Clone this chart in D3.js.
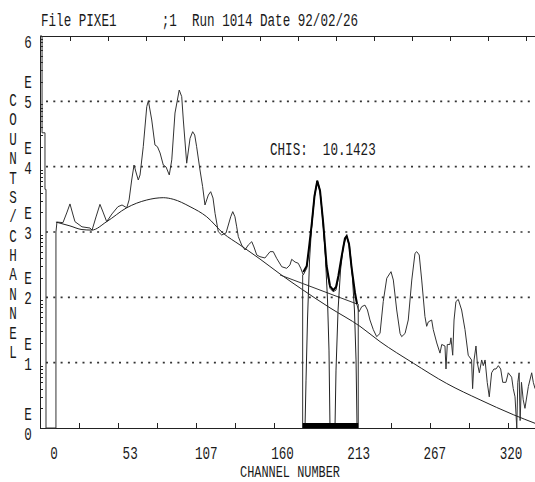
<!DOCTYPE html>
<html>
<head>
<meta charset="utf-8">
<script src="https://cdn.jsdelivr.net/npm/d3@7"></script>
<style>
body { margin: 0; background: #fff; }
text {
  font-family: "Liberation Mono", "DejaVu Sans Mono", monospace;
  fill: #1a1a1a;
  font-size: 18px;
  white-space: pre;
}
.frame line, .frame path { stroke: #222; stroke-width: 1; fill: none; shape-rendering: crispEdges; }
.grid line { stroke: #333; stroke-width: 1.6; stroke-dasharray: 2 5.3; }
</style>
</head>
<body>
<svg id="chart" width="535" height="482"></svg>
<script>
// ---- data ----
// measured spectrum (channel, counts); counts of 1 sit on the bottom axis
const specCh = [0, 1.4, 1.4, 3.4, 3.4, 4.1, 4.1, 10.9,
  10.9, 11.6, 15.7, 18.5, 20.5, 22.6, 23.9, 28.7, 34.2, 35.6, 38.3, 41.0, 43.1, 45.6, 49.2,
  53.3, 56.1, 59.3, 60.9, 62.7, 64.3, 65.6, 67.2, 68.4, 70.6, 73.0, 74.1, 76.4, 78.6, 80.3,
  82.1, 84.3, 86.2, 88.4, 90.1, 92.3, 95.2, 96.9, 98.0, 100.3, 102.6, 104.4, 105.8, 107.1,
  109.4, 111.2, 112.8, 115.1, 116.7, 118.3, 119.7, 121.9, 124.2, 127.2, 130.4, 131.8, 133.3,
  134.5, 135.6, 137.9, 140.2, 142.4, 144.8, 146.3, 148.2, 150.4, 153.8, 157.3, 159.5, 161.8,
  165.3, 168.7, 170.9, 172.1, 174.4, 176.6, 178.3, 180.0, 182.4, 183.9, 185.8, 187.7, 189.6,
  191.5, 193.7, 196.0, 198.3, 200.5, 202.4, 204.0, 206.3, 208.5, 209.7, 211.3, 213.1, 215.4,
  216.8, 218.1, 220.0, 222.2, 223.9, 225.6, 227.9, 230.2, 232.5, 234.7, 237.1, 240.0, 241.6,
  243.9, 246.2, 247.3, 249.6, 251.8, 254.2, 256.4, 257.6, 259.3, 261.0, 263.2, 264.4, 265.5,
  267.8, 268.9, 271.3, 273.5, 274.7, 276.9, 277.6, 278.5, 280.3, 281.0, 282.2, 283.1, 284.4,
  286.0, 288.3, 290.6, 292.8, 295.1, 295.8, 296.8, 298.1, 299.0, 300.4, 302.0, 303.1, 304.3,
  305.8, 307.2, 308.8, 310.4, 311.8, 313.4, 315.0, 316.4, 318.6, 320.2, 322.5, 323.6, 324.8,
  326.0, 326.7, 327.6, 328.3, 329.2, 330.4, 331.6, 333.9, 336.2, 337.3, 338.5];
const specCounts = [1e6, 1e6, 33000, 33000, 4500, 4500, 1, 1,
  1000, 1420, 1390, 2020, 2690, 1820, 1440, 1200, 1150, 1070, 1700, 2650, 2020, 1440, 1890,
  2440, 2590, 2350, 3090, 6250, 10600, 8280, 6250, 7460, 20200, 82800, 102000, 51800, 21500, 20200,
  16200, 10600, 9890, 7460, 12700, 66200, 149000, 118000, 51800, 11300, 27200, 34300, 30500, 20200,
  8890, 4940, 2590, 3680, 4140, 3310, 1930, 1010, 900, 966, 1710, 2050, 1710,
  1200, 848, 632, 531, 632, 711, 590, 445, 419, 400, 500, 500, 396,
  294, 278, 313, 382, 347, 332, 278, 220, 278, 531, 1200, 3430, 6100,
  4400, 1200, 262, 137, 122, 129, 196, 419, 801, 869, 632, 262, 109,
  76, 60, 72, 76, 64, 45, 32, 25, 28, 86, 196, 247, 184,
  64, 28, 25, 28, 45, 184, 472, 500, 445, 184, 51, 36, 42,
  45, 32, 20, 14, 19, 18, 8, 19, 19, 24, 13, 45, 86,
  93, 64, 32, 13, 11, 4, 11, 18, 10, 7, 11, 9, 11,
  5, 3, 7, 8, 8, 9, 8, 5, 5, 7, 6, 4, 3,
  1, 5, 7, 1.3, 5, 2.7, 2, 4.3, 7, 5, 4];

// smooth continuum under the whole spectrum
const bgCh = [10.9, 20.5, 28.7, 35.4, 45.6, 59.3, 73.0, 84.3, 91.1, 102.6, 114.0, 125.3, 136.8,
  150.4, 164.1, 177.8, 198.3, 218.8, 232.5, 255.3, 278.1, 300.9, 323.6, 338.5];
const bgCounts = [1420, 1240, 1090, 1070, 1440, 2350, 3090, 3350, 3170, 2440, 1710, 955, 632,
  386, 228, 139, 69, 36, 21, 9.8, 4.8, 2.7, 1.6, 1.18];

// local background of the fitted region
const localBgCh = [164.1, 216.8];
const localBgCounts = [220, 79];

// fitted peak components
const peak1Ch = [181.2, 181.9, 182.9, 184.3, 186.0, 187.7, 189.6, 191.5, 193.2, 194.9, 196.6, 197.6, 198.3];
const peak1Counts = [1, 5.4, 45, 373, 1530, 3690, 6040, 4100, 1820, 531, 91, 15.6, 1];
const peak2Ch = [201.7, 202.4, 203.8, 205.5, 207.5, 209.7, 211.6, 213.3, 215.0, 216.1, 216.8];
const peak2Counts = [1, 7.7, 64, 262, 632, 869, 632, 262, 64, 11, 1];

// total fit over the region
const fitCh = [180.0, 182.4, 183.9, 185.8, 187.7, 189.6, 191.5, 193.7, 196.0, 198.3, 200.5, 202.4,
  204.0, 206.3, 208.5, 209.7, 211.3, 213.1, 215.4, 216.8];
const fitCounts = [244, 302, 569, 1330, 3560, 6100, 4250, 1330, 302, 149, 129, 144,
  212, 430, 795, 869, 655, 281, 117, 79];

const regionCh = [179.6, 217.6];
const regionEdgeCounts = [220, 79];

const xLabels = ["0", "53", "107", "160", "213", "267", "320"];
const xTicks = [26.7, 53.3, 80, 106.7, 133.3, 160, 186.7, 213.3, 240, 266.7, 293.3, 320];
const topTicks = [20.5, 46.5, 72.5, 98.5, 124.5, 150.5, 176.5, 202.5, 228.5, 254.5, 280.5, 306.5, 332.5];
const decades = [0, 1, 2, 3, 4, 5, 6];
const yTitle = "COUNTS/CHANNEL";
const xTitle = "CHANNEL NUMBER";
const title = "File PIXE1      ;1  Run 1014 Date 92/02/26";
const chis = "CHIS:  10.1423";

// ---- layout ----
const pL = 40, pR = 545, pT = 36, pB = 428;
const SX = 0.7; // narrow, tall plotter lettering

const x = d3.scaleLinear().domain([0, 320]).range([pL, 508]);
const y = d3.scaleLog().domain([1, 1e6]).range([pB, pT]).clamp(true);
const xLab = d3.scalePoint().domain(xLabels).range([54, 511]);
const yLet = d3.scalePoint().domain(d3.range(yTitle.length)).range([100, 352]);

const svg = d3.select("#chart");

function label(g, tx, ty, str, anchor) {
  return g.append("text")
    .attr("transform", `translate(${tx},${ty}) scale(${SX},1)`)
    .attr("text-anchor", anchor || "start")
    .text(str);
}

// title
label(svg, 41, 26, title);

// dotted decade grid
svg.append("g").attr("class", "grid")
  .selectAll("line").data(decades.filter(d => d > 0 && d < 6))
  .enter().append("line")
  .attr("x1", pL + 6).attr("x2", pR)
  .attr("y1", d => y(Math.pow(10, d))).attr("y2", d => y(Math.pow(10, d)));

// frame
const frame = svg.append("g").attr("class", "frame");
frame.append("path").attr("d", `M${pR},${pT}H${pL}V${pB}H${pR}`);

// minor log ticks on left edge
const minors = [];
decades.slice(0, 6).forEach(k => { for (let m = 2; m <= 9; m++) minors.push(m * Math.pow(10, k)); });
frame.selectAll(".minor").data(minors).enter().append("line")
  .attr("x1", pL).attr("x2", pL + 3)
  .attr("y1", d => Math.round(y(d)) + 0.5).attr("y2", d => Math.round(y(d)) + 0.5);

// bottom ticks
frame.selectAll(".bt").data(xTicks).enter().append("line")
  .attr("x1", d => Math.round(x(d)) + 0.5).attr("x2", d => Math.round(x(d)) + 0.5)
  .attr("y1", pB).attr("y2", pB - 5);
// top ticks
frame.selectAll(".tt").data(topTicks).enter().append("line")
  .attr("x1", d => Math.round(x(d)) + 0.5).attr("x2", d => Math.round(x(d)) + 0.5)
  .attr("y1", pT).attr("y2", pT + 5);

// x labels
const xl = svg.append("g");
xLabels.forEach(d => label(xl, xLab(d), 459, d, "middle"));
label(svg, 290, 477, xTitle, "middle").style("font-size", "17px");

// y labels: exponent digit with an "E" above
const yl = svg.append("g");
decades.forEach(d => {
  const base = y(Math.pow(10, d)) + (d === 6 ? 12 : d === 0 ? 12 : 7);
  label(yl, 28, base, String(d), "middle");
  if (d < 6) label(yl, 28, base - 20, "E", "middle");
});

// vertical axis title, one letter per row
const yt = svg.append("g");
yTitle.split("").forEach((c, i) => label(yt, 13, yLet(i) + 6, c, "middle"));

// CHIS
label(svg, 270, 155, chis);

const line = d3.line().x(d => x(d[0])).y(d => y(d[1]));
const zip = (a, b) => a.map((v, i) => [v, b[i]]);

const plot = svg.append("g").attr("fill", "none");

// spectrum
plot.append("path").attr("d", line(zip(specCh, specCounts)))
  .attr("stroke", "#333").attr("stroke-width", 1);

// continuum
plot.append("path").attr("d", line.curve(d3.curveMonotoneX)(zip(bgCh, bgCounts)))
  .attr("stroke", "#222").attr("stroke-width", 1);
line.curve(d3.curveLinear);
plot.append("path").attr("d", line(zip(localBgCh, localBgCounts)))
  .attr("stroke", "#333").attr("stroke-width", 1);

// components
plot.append("path").attr("d", line(zip(peak1Ch, peak1Counts)))
  .attr("stroke", "#222").attr("stroke-width", 1);
plot.append("path").attr("d", line(zip(peak2Ch, peak2Counts)))
  .attr("stroke", "#222").attr("stroke-width", 1);

// region edges
plot.selectAll(".edge").data(zip(regionCh, regionEdgeCounts)).enter().append("line")
  .attr("x1", d => x(d[0])).attr("x2", d => x(d[0]))
  .attr("y1", pB).attr("y2", d => y(d[1]))
  .attr("stroke", "#333").attr("stroke-width", 1);

// fit
plot.append("path").attr("d", line(zip(fitCh, fitCounts)))
  .attr("stroke", "#000").attr("stroke-width", 2);

// region bar
svg.append("rect")
  .attr("x", x(regionCh[0])).attr("width", x(regionCh[1]) - x(regionCh[0]))
  .attr("y", pB - 5).attr("height", 5).attr("fill", "#000");
</script>
</body>
</html>
